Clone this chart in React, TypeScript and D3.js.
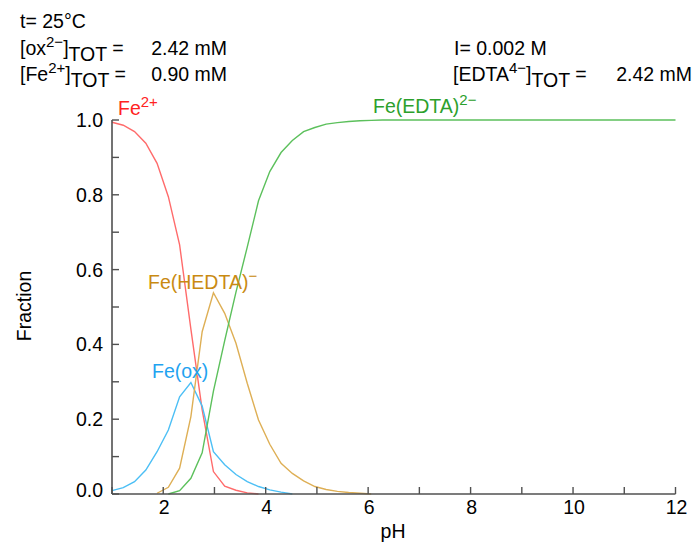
import React, { useEffect, useRef } from "react";
import * as d3 from "d3";

// pH grid used by the speciation calculation (51 points, 1 -> 12)
const phValues = [
  1.0, 1.22, 1.44, 1.66, 1.88, 2.1, 2.32, 2.54, 2.76, 2.98, 3.2, 3.42, 3.64,
  3.86, 4.08, 4.3, 4.52, 4.74, 4.96, 5.18, 5.4, 5.62, 5.84, 6.06, 6.28, 6.5,
  6.72, 6.94, 7.16, 7.38, 7.6, 7.82, 8.04, 8.26, 8.48, 8.7, 8.92, 9.14, 9.36,
  9.58, 9.8, 10.02, 10.24, 10.46, 10.68, 10.9, 11.12, 11.34, 11.56, 11.78, 12.0,
];

// fractions (null = not drawn, negligible)
const fe2 = [
  0.994, 0.986, 0.969, 0.938, 0.884, 0.795, 0.666, 0.441, 0.225, 0.06, 0.021,
  0.01, 0.003, 0.0,
];
const feOx = [
  0.009, 0.017, 0.033, 0.064, 0.113, 0.171, 0.26, 0.298, 0.235, 0.113, 0.078,
  0.052, 0.033, 0.02, 0.011, 0.005, 0.0,
];
const feHedta = [
  null, null, null, null, 0.002, 0.018, 0.069, 0.207, 0.434, 0.538, 0.483,
  0.403, 0.296, 0.198, 0.133, 0.082, 0.055, 0.035, 0.02, 0.012, 0.007, 0.004,
  0.002, 0.0,
];
const feEdta = [
  null, null, null, null, null, 0.0, 0.009, 0.042, 0.11, 0.275, 0.41, 0.54,
  0.66, 0.784, 0.862, 0.913, 0.945, 0.969, 0.98, 0.989, 0.993, 0.996, 0.998,
  0.999, 1, 1, 1, 1, 1, 1, 1, 1, 1, 1, 1, 1, 1, 1, 1, 1, 1, 1, 1, 1, 1, 1, 1,
  1, 1, 1, 1,
];

const xTicks = [1, 2, 3, 4, 5, 6, 7, 8, 9, 10, 11, 12];
const xTickLabels = [2, 4, 6, 8, 10, 12];
const yTicks = [0, 0.1, 0.2, 0.3, 0.4, 0.5, 0.6, 0.7, 0.8, 0.9, 1.0];
const yTickLabels = [0, 0.2, 0.4, 0.6, 0.8, 1.0];

const FONT = "'Liberation Sans', Arial, sans-serif";
const FS = 19.5;
const SUP = 15;

const App = () => {
  const ref = useRef<SVGGElement | null>(null);

  useEffect(() => {
    const g = d3.select(ref.current);
    g.selectAll("*").remove();

    const x = d3.scaleLinear().domain([1, 12]).range([112, 675.5]);
    const y = d3.scaleLinear().domain([0, 1]).range([494, 120]);
    const axisColor = "#505050";

    // curves
    const series = [
      { vals: fe2, color: "#ff6b6b" },
      { vals: feOx, color: "#4cbff5" },
      { vals: feHedta, color: "#deaf55" },
      { vals: feEdta, color: "#5cc05c" },
    ];
    const line = d3
      .line<[number, number | null]>()
      .defined((d) => d[1] != null)
      .x((d) => x(d[0]))
      .y((d) => y(d[1] as number));

    series.forEach((s) => {
      const pts = phValues.map(
        (p, i) => [p, i < s.vals.length ? s.vals[i] : null] as [number, number | null]
      );
      g.append("path")
        .attr("d", line(pts))
        .attr("fill", "none")
        .attr("stroke", s.color)
        .attr("stroke-width", 1.4);
    });

    // axes
    g.append("line")
      .attr("x1", x(1)).attr("x2", x(12))
      .attr("y1", y(0)).attr("y2", y(0))
      .attr("stroke", axisColor).attr("stroke-width", 1.6);
    g.append("line")
      .attr("x1", x(1)).attr("x2", x(1))
      .attr("y1", y(0)).attr("y2", y(1))
      .attr("stroke", axisColor).attr("stroke-width", 1.6);

    g.selectAll(".xt")
      .data(xTicks)
      .enter()
      .append("line")
      .attr("x1", (d) => x(d)).attr("x2", (d) => x(d))
      .attr("y1", y(0)).attr("y2", y(0) - 7)
      .attr("stroke", axisColor).attr("stroke-width", 1.4);
    g.selectAll(".yt")
      .data(yTicks)
      .enter()
      .append("line")
      .attr("x1", x(1)).attr("x2", x(1) + 7)
      .attr("y1", (d) => y(d)).attr("y2", (d) => y(d))
      .attr("stroke", axisColor).attr("stroke-width", 1.4);

    g.selectAll(".xl")
      .data(xTickLabels)
      .enter()
      .append("text")
      .attr("x", (d) => x(d) + 1)
      .attr("y", 514)
      .attr("text-anchor", "middle")
      .attr("font-family", FONT)
      .attr("font-size", FS)
      .text((d) => d);
    g.selectAll(".yl")
      .data(yTickLabels)
      .enter()
      .append("text")
      .attr("x", 103)
      .attr("y", (d) => (d === 0 ? y(d) + 3 : y(d) + 7))
      .attr("text-anchor", "end")
      .attr("font-family", FONT)
      .attr("font-size", FS)
      .text((d) => d3.format(".1f")(d));

    g.append("text")
      .attr("x", 393).attr("y", 538)
      .attr("text-anchor", "middle")
      .attr("font-family", FONT).attr("font-size", FS)
      .text("pH");
    g.append("text")
      .attr("transform", "translate(31,306) rotate(-90)")
      .attr("text-anchor", "middle")
      .attr("font-family", FONT).attr("font-size", FS)
      .text("Fraction");
  }, []);

  return (
    <svg
      width={695}
      height={545}
      style={{ position: "absolute", left: 0, top: 0, background: "#fff" }}
    >
      <g ref={ref} />
      <g fontFamily={FONT} fontSize={FS} fill="#000">
        <text x={20} y={28}>t= 25°C</text>
        <text x={20} y={55}>
          [ox<tspan dy={-8} fontSize={SUP}>2−</tspan>
          <tspan dy={8}>]</tspan>
          <tspan dy={6}>TOT</tspan>
          <tspan dy={-6}> =</tspan>
        </text>
        <text x={227} y={55} textAnchor="end">2.42 mM</text>
        <text x={20} y={81}>
          [Fe<tspan dy={-8} fontSize={SUP}>2+</tspan>
          <tspan dy={8}>]</tspan>
          <tspan dy={6}>TOT</tspan>
          <tspan dy={-6}> =</tspan>
        </text>
        <text x={227} y={81} textAnchor="end">0.90 mM</text>
        <text x={454} y={55}>I= 0.002 M</text>
        <text x={453} y={81}>
          [EDTA<tspan dy={-8} fontSize={SUP}>4−</tspan>
          <tspan dy={8}>]</tspan>
          <tspan dy={6}>TOT</tspan>
          <tspan dy={-6}> =</tspan>
        </text>
        <text x={692} y={81} textAnchor="end">2.42 mM</text>

        <text x={118} y={115} fill="#ff2222">
          Fe<tspan dy={-8} fontSize={SUP}>2+</tspan>
        </text>
        <text x={373} y={113} fill="#2ca02c">
          Fe(EDTA)<tspan dy={-8} fontSize={SUP}>2−</tspan>
        </text>
        <text x={148} y={289} fill="#c98a12">
          Fe(HEDTA)<tspan dy={-8} fontSize={SUP}>−</tspan>
        </text>
        <text x={152} y={378} fill="#1fa3f0">
          Fe(ox)
        </text>
      </g>
    </svg>
  );
};

export default App;
